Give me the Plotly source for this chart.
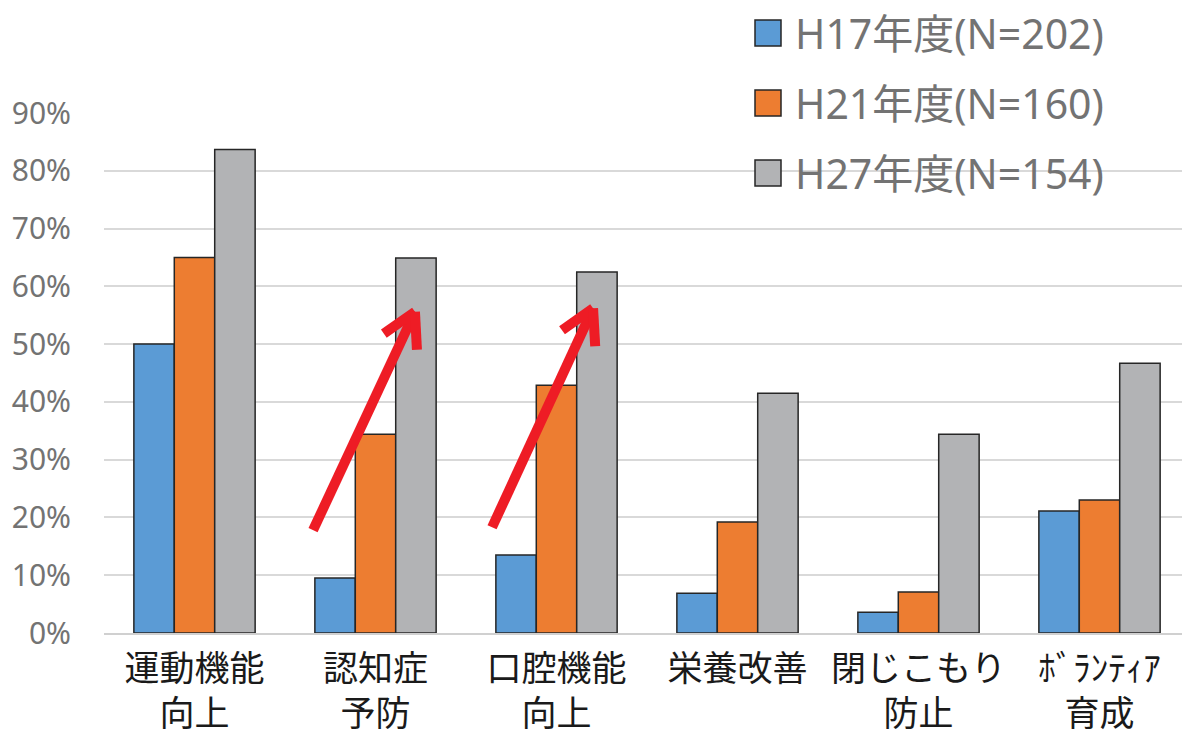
import math
import plotly.graph_objects as go

categories = ["運動機能<br>向上", "認知症<br>予防", "口腔機能<br>向上", "栄養改善", "閉じこもり<br>防止", "ﾎﾞﾗﾝﾃｨｱ<br>育成"]
series_names = ["H17年度(N=202)", "H21年度(N=160)", "H27年度(N=154)"]
h17 = [50.0, 9.5, 13.5, 6.9, 3.6, 21.1]
h21 = [65.0, 34.4, 42.9, 19.2, 7.1, 23.0]
h27 = [83.7, 64.9, 62.5, 41.5, 34.4, 46.7]
series_values = [h17, h21, h27]
colors = ["#5B9BD5", "#ED7D31", "#B2B3B5"]
y_ticks = [0, 10, 20, 30, 40, 50, 60, 70, 80, 90]

# arrows: (start_x, start_y, tip_x, tip_y) in data units (category index, %)
arrows = [(0.655, 17.8, 1.218, 55.6), (1.644, 18.3, 2.202, 56.2)]

OFF = 8  # page body margin
W, H = 1190 - OFF, 737 - OFF
ML, MR, MT, MB = 104 - OFF, 0, 113 - OFF, 104
PW, PH = W - ML - MR, H - MT - MB
YMAX = 90
xs_px = PW / len(categories)
ys_px = PH / YMAX

fig = go.Figure()
x_idx = list(range(len(categories)))
for name, vals, c in zip(series_names, series_values, colors):
    fig.add_trace(go.Bar(
        x=x_idx, y=vals, name=name, marker=dict(color=c, line=dict(color="#262626", width=1.5)),
        showlegend=False,
    ))

shapes = []
red = "#EE1C25"
for (x0, y0, x1, y1) in arrows:
    shapes.append(dict(type="line", xref="x", yref="y", x0=x0, y0=y0, x1=x1, y1=y1,
                       line=dict(color=red, width=10)))
    dx = (x0 - x1) * xs_px
    dy = -(y0 - y1) * ys_px
    L = math.hypot(dx, dy)
    ux, uy = dx / L, dy / L
    for ang in (30, -28):
        a = math.radians(ang)
        bx = ux * math.cos(a) - uy * math.sin(a)
        by = ux * math.sin(a) + uy * math.cos(a)
        ex = x1 + bx * 38 / xs_px
        ey = y1 - by * 38 / ys_px
        shapes.append(dict(type="line", xref="x", yref="y", x0=x1, y0=y1, x1=ex, y1=ey,
                           line=dict(color=red, width=10)))

# manual legend (positions in screen pixels, converted to paper coords)
def px_to_paper_x(px):
    return (px - OFF - ML) / PW

def py_to_paper_y(py):
    return (H - MB - (py - OFF)) / PH

annotations = []
legend_y_px = [33, 103, 173]
for name, c, ypx in zip(series_names, colors, legend_y_px):
    shapes.append(dict(type="rect", xref="paper", yref="paper",
                       x0=px_to_paper_x(755), x1=px_to_paper_x(781),
                       y0=py_to_paper_y(ypx + 13), y1=py_to_paper_y(ypx - 13),
                       fillcolor=c, line=dict(color="#262626", width=1.5)))
    annotations.append(dict(xref="paper", yref="paper", x=px_to_paper_x(793), y=py_to_paper_y(ypx),
                            xanchor="left", yanchor="middle", showarrow=False, text=name,
                            font=dict(family="Noto Sans, Noto Sans CJK JP", size=41, color="#737373")))

fig.update_layout(
    width=W, height=H,
    margin=dict(l=ML, r=MR, t=MT, b=MB),
    paper_bgcolor="white", plot_bgcolor="white",
    barmode="group", bargap=0.33, bargroupgap=0,
    shapes=shapes, annotations=annotations,
    showlegend=False,
    xaxis=dict(tickmode="array", tickvals=x_idx, ticktext=categories, range=[-0.5, len(categories) - 0.5],
               tickfont=dict(family="Noto Sans CJK JP", size=35, color="#1a1a1a"),
               showgrid=False, showline=True, linecolor="#D0D0D0", linewidth=1.5, ticks="",
               ticklabelstandoff=4),
    yaxis=dict(range=[0, YMAX], tickvals=y_ticks, ticktext=[f"{v}%" for v in y_ticks],
               tickfont=dict(family="Noto Sans", size=30, color="#737373"),
               showgrid=True, gridcolor="#D9D9D9", gridwidth=1.5, zeroline=False,
               ticks="", ticklabelstandoff=32),
)

fig.write_html("out.html")
